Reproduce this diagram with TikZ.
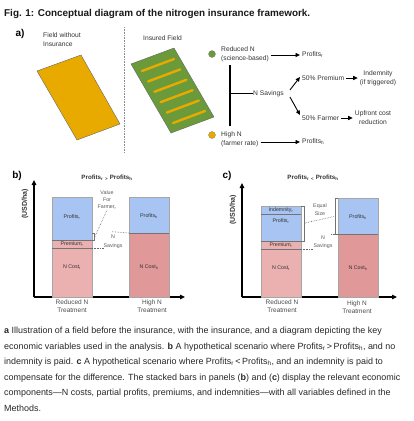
\documentclass[tikz,border=0pt]{standalone}
\usepackage{fontspec}
\setmainfont{Liberation Sans}
\usetikzlibrary{arrows.meta,calc,positioning}

\definecolor{fieldorange}{HTML}{E9AA00}
\definecolor{fieldgreen}{HTML}{6B9A3B}
\definecolor{profitblue}{HTML}{A7C4F2}
\definecolor{costlight}{HTML}{EBB0B0}
\definecolor{costdark}{HTML}{E09898}
\definecolor{inktext}{HTML}{333333}

\tikzset{
	flowtext/.style={font=\fontsize{6.7}{8.8}\selectfont, text=inktext, inner sep=0pt, align=center},
	notetext/.style={font=\fontsize{5.3}{8.5}\selectfont, text=black!65, inner sep=0pt, align=center},
	bartext/.style={font=\fontsize{5.3}{6}\selectfont, text=inktext, inner sep=0pt},
	cattext/.style={font=\fontsize{6.5}{8}\selectfont, text=black!70, inner sep=0pt, align=center},
	unittext/.style={font=\bfseries\fontsize{7}{8}\selectfont, text=inktext, inner sep=0pt, rotate=90},
	paneltitle/.style={font=\bfseries\fontsize{6.2}{8}\selectfont, text=inktext, inner sep=0pt},
	panellabel/.style={font=\bfseries\fontsize{10}{12}\selectfont, inner sep=0pt},
	captionline/.style={font=\fontsize{8.95}{11}\selectfont, text=black!85, anchor=base west, inner sep=0pt},
	flowarrow/.style={-{Triangle[length=4.5pt,width=4pt]}, line width=0.9pt, shorten <=2pt, shorten >=2pt},
	axisarrow/.style={-{Triangle[length=5pt,width=4.5pt]}, line width=1.2pt},
	guide/.style={densely dotted, line width=0.6pt, black!60},
	bracketline/.style={line width=0.5pt, black!55},
	barpart/.style={draw=black!35, line width=0.4pt},
	dot/.style={circle, minimum size=7pt, inner sep=0pt, draw=black!50, line width=0.3pt},
}

\begin{document}
\begin{tikzpicture}[x=1pt,y=-1pt]
	\useasboundingbox (0,0) rectangle (413,421);

	% Title
	\node[anchor=west, font=\bfseries\fontsize{9.9}{11}\selectfont, text=black!90, inner sep=0pt] (title) at (4,14) {Fig. 1: Conceptual diagram of the nitrogen insurance framework.};

	% Panel a: field before and with the insurance
	\node[panellabel] (alabel) at (20,34) {a)};
	\node[flowtext, anchor=west, align=left] (nofield) at (43,39.5) {Field without\\Insurance};
	\node[flowtext, anchor=west] (insfield) at (143,38) {Insured Field};
	\draw[densely dotted, black!45, line width=0.6pt] (124,27) -- (124,152);

	\filldraw[fill=fieldorange, draw=black!60, line width=0.4pt] (37,71) -- (81,55) -- (120,124) -- (77,140) -- cycle;
	\filldraw[fill=fieldgreen, draw=black!60, line width=0.4pt] (131,64) -- (174,48) -- (214,117) -- (171,133) -- cycle;
	\foreach \i in {0,...,5}
		\draw[fieldorange, line width=2.4pt, line cap=round] ({142+6.2*\i},{71+10.4*\i}) -- ++(32,-12);

	% Panel a: economic variables
	\node[dot, fill=fieldgreen] (gdot) at (212,54) {};
	\node[dot, fill=fieldorange] (odot) at (212,135) {};
	\node[flowtext, anchor=west, align=left] (redN) at (221,54.5) {Reduced N\\(science-based)};
	\node[flowtext, anchor=west, align=left] (highN) at (221,139.5) {High N\\(farmer rate)};
	\node[flowtext, anchor=west] (profr) at (302,55) {Profits\textsubscript{r}};
	\node[flowtext, anchor=west] (profh) at (302,142) {Profits\textsubscript{h}};
	\node[flowtext, anchor=west] (nsav) at (253,93.5) {N Savings};
	\node[flowtext, anchor=west] (prem) at (302,78) {50\% Premium};
	\node[flowtext, anchor=west] (farm) at (302,118) {50\% Farmer};
	\node[flowtext] (indem) at (378,78.5) {Indemnity\\(if triggered)};
	\node[flowtext] (upfront) at (373,117.5) {Upfront cost\\reduction};

	\coordinate (splittop) at (230,65);
	\coordinate (splitbot) at (230,126);
	\coordinate (splitmid) at (230,93.5);
	\draw[line width=1.1pt] (splittop) -- (splitbot);
	\draw[line width=1.1pt] (splitmid) -- (nsav.west);

	\draw[flowarrow] (redN.east |- profr.west) -- (profr.west);
	\draw[flowarrow] (highN.east |- profh.west) -- (profh.west);
	\draw[flowarrow, shorten <=0pt, shorten >=0pt] ($(nsav.east)+(6,-3.5)$) -- ($(prem.west)+(-2,-1)$);
	\draw[flowarrow, shorten <=0pt, shorten >=0pt] ($(nsav.east)+(6,3.5)$) -- ($(farm.west)+(-2,-3)$);
	\draw[flowarrow] (prem.east) -- (prem.east -| indem.west);
	\draw[flowarrow] (farm.east) -- (farm.east -| upfront.west);

	% Panel b: no indemnity
	\node[panellabel] (blabel) at (17,176) {b)};
	\node[paneltitle] (btitle) at (107,178) {Profits\textsubscript{r} \textsubscript{>} Profits\textsubscript{h}};
	\coordinate (bO) at (34,297);
	\draw[axisarrow] (bO) -- (34,180);
	\draw[axisarrow] (bO) -- (185,297);
	\node[unittext] (bunit) at (25,204) {(USD/ha)};

	\filldraw[barpart, fill=profitblue] (52,197) rectangle (92,240);
	\filldraw[barpart, fill=costlight] (52,240) rectangle (92,248);
	\filldraw[barpart, fill=costlight] (52,248) rectangle (92,297);
	\draw[black!55, line width=0.5pt] (52,240) -- (92,240);
	\draw[black!55, line width=0.5pt] (52,248) -- (92,248);
	\filldraw[barpart, fill=profitblue] (129,197) rectangle (169,233);
	\filldraw[barpart, fill=costdark] (129,233) rectangle (169,297);
	\draw[black!55, line width=0.5pt] (129,233) -- (169,233);

	\node[bartext] (bprofr) at (72,217) {Profits\textsubscript{r}};
	\node[bartext] (bpremr) at (72,244) {Premium\textsubscript{r}};
	\node[bartext] (bcostr) at (72,267) {N Cost\textsubscript{r}};
	\node[bartext] (bprofh) at (149,216) {Profits\textsubscript{h}};
	\node[bartext] (bcosth) at (149,267) {N Cost\textsubscript{h}};

	\node[notetext, font=\fontsize{5.3}{7.3}\selectfont] (bvalue) at (107,200) {Value\\For\\Farmer\textsubscript{r}};
	\draw[bracketline] (92,233) -- (94.5,233) -- (94.5,240) -- (92,240);
	\coordinate (bbrk) at (95,236.5);
	\draw[guide] (bbrk) -- (bvalue.south);
	\node[notetext] (bsav) at (113,241.5) {N\\Savings};
	\draw[guide] (bsav.north) ++(-1,-3) -- (129,233);
	\draw[guide] (92,248) -- (bsav.west |- 0,248);

	\node[cattext] (bcatr) at (72,306) {Reduced N\\Treatment};
	\node[cattext] (bcath) at (152,306) {High N\\Treatment};

	% Panel c: indemnity paid
	\node[panellabel] (clabel) at (227,176) {c)};
	\node[paneltitle] (ctitle) at (313,178) {Profits\textsubscript{r} \textsubscript{<} Profits\textsubscript{h}};
	\coordinate (cO) at (242,297);
	\draw[axisarrow] (cO) -- (242,183);
	\draw[axisarrow] (cO) -- (397,297);
	\node[unittext] (cunit) at (233,210) {(USD/ha)};

	\filldraw[barpart, fill=profitblue] (261,206) rectangle (301,214);
	\filldraw[barpart, fill=profitblue] (261,214) rectangle (301,241);
	\filldraw[barpart, fill=costlight] (261,241) rectangle (301,249);
	\filldraw[barpart, fill=costlight] (261,249) rectangle (301,297);
	\draw[black!55, line width=0.5pt] (261,214) -- (301,214);
	\draw[black!55, line width=0.5pt] (261,241) -- (301,241);
	\draw[black!55, line width=0.5pt] (261,249) -- (301,249);
	\filldraw[barpart, fill=profitblue] (338,198) rectangle (378,234);
	\filldraw[barpart, fill=costdark] (338,234) rectangle (378,297);
	\draw[black!55, line width=0.5pt] (338,234) -- (378,234);

	\node[bartext] (cindr) at (281,210) {Indemnity\textsubscript{r}};
	\node[bartext] (cprofr) at (281,221) {Profits\textsubscript{r}};
	\node[bartext] (cpremr) at (281,245) {Premium\textsubscript{r}};
	\node[bartext] (ccostr) at (281,268) {N Cost\textsubscript{r}};
	\node[bartext] (cprofh) at (358,217) {Profits\textsubscript{h}};
	\node[bartext] (ccosth) at (358,268) {N Cost\textsubscript{h}};

	\draw[bracketline] (301,206) -- (304,206) -- (304,241) -- (301,241);
	\draw[bracketline] (338,198) -- (335,198) -- (335,234) -- (338,234);
	\coordinate (cbrkr) at (305,223);
	\coordinate (cbrkh) at (334,216.5);
	\draw[guide] (cbrkr) -- (cbrkh);
	\node[notetext] (cequal) at (320,209.5) {Equal\\Size};
	\node[notetext] (csav) at (323,242) {N\\Savings};
	\draw[guide] (331,234) -- (338,234);
	\draw[guide] (301,249) -- (313,249);

	\node[cattext] (ccatr) at (282,306) {Reduced N\\Treatment};
	\node[cattext] (ccath) at (357,307) {High N\\Treatment};

	% Caption
	\node[captionline] (cap1) at (4,333) {\textbf{a} Illustration of a field before the insurance, with the insurance, and a diagram depicting the key};
	\node[captionline] (cap2) at (4,349) {economic variables used in the analysis. \textbf{b} A hypothetical scenario where Profits\textsubscript{r}\,>\,Profits\textsubscript{h}, and no};
	\node[captionline] (cap3) at (4,364) {indemnity is paid. \textbf{c} A hypothetical scenario where Profits\textsubscript{r}\,<\,Profits\textsubscript{h}, and an indemnity is paid to};
	\node[captionline] (cap4) at (4,380) {compensate for the difference. The stacked bars in panels (\textbf{b}) and (\textbf{c}) display the relevant economic};
	\node[captionline] (cap5) at (4,395) {components—N costs, partial profits, premiums, and indemnities—with all variables defined in the};
	\node[captionline] (cap6) at (4,411) {Methods.};
\end{tikzpicture}
\end{document}
